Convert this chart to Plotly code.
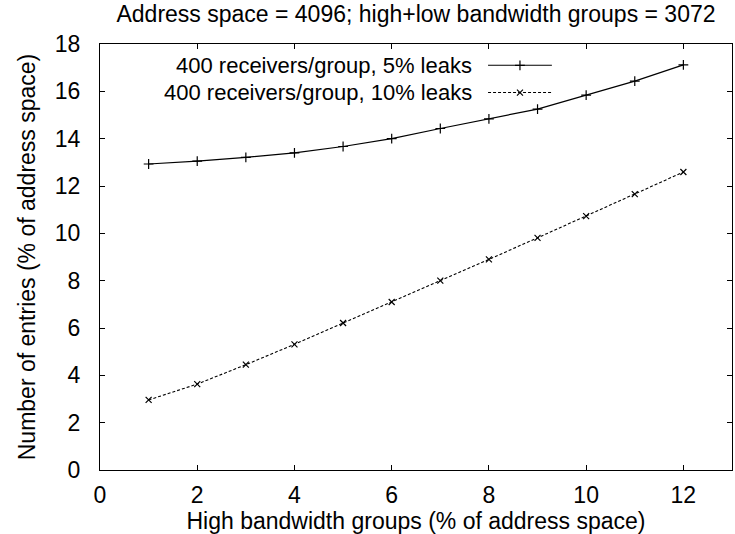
import plotly.graph_objects as go

# High bandwidth groups (% of address space)
high_bw = [1, 2, 3, 4, 5, 6, 7, 8, 9, 10, 11, 12]
# Number of entries (% of address space)
entries_5pct = [12.93, 13.05, 13.21, 13.40, 13.67, 14.00, 14.43, 14.84, 15.25, 15.84, 16.43, 17.12]
entries_10pct = [2.96, 3.63, 4.45, 5.31, 6.21, 7.10, 8.00, 8.90, 9.81, 10.73, 11.66, 12.59]

series_names = ["400 receivers/group, 5% leaks", "400 receivers/group, 10% leaks"]
x_ticks = [0, 2, 4, 6, 8, 10, 12]
y_ticks = [0, 2, 4, 6, 8, 10, 12, 14, 16, 18]

FONT = "Liberation Sans, Arial, Helvetica, sans-serif"
FS = 23
KEY_FS = 22

fig = go.Figure()

fig.add_trace(go.Scatter(
    x=high_bw, y=entries_5pct, mode="lines+markers", name=series_names[0],
    line=dict(color="black", width=1.2),
    marker=dict(symbol="cross-thin", size=7, line=dict(color="black", width=1.2)),
    showlegend=False,
))
fig.add_trace(go.Scatter(
    x=high_bw, y=entries_10pct, mode="lines+markers", name=series_names[1],
    line=dict(color="black", width=1.1, dash="3px,2px"),
    marker=dict(symbol="x-thin", size=6, line=dict(color="black", width=1.2)),
    showlegend=False,
))

# Key: text right-aligned, sample line to the right (gnuplot style)
key_rows = [0.950, 0.886]
key_text_x = 0.590
key_line = (0.614, 0.715)
styles = [
    dict(dash="solid", symbol="cross-thin", size=7),
    dict(dash="3px,2px", symbol="x-thin", size=6),
]
for name, yk, st in zip(series_names, key_rows, styles):
    fig.add_annotation(
        x=key_text_x, y=yk, xref="paper", yref="paper", text=name,
        showarrow=False, xanchor="right", yanchor="middle", borderpad=0,
        font=dict(family=FONT, size=KEY_FS, color="black"),
    )
    fig.add_trace(go.Scatter(
        x=[key_line[0], key_line[1]], y=[yk, yk], xaxis="x2", yaxis="y2",
        mode="lines", line=dict(color="black", width=1.1, dash=st["dash"]),
        showlegend=False, hoverinfo="skip",
    ))
    fig.add_trace(go.Scatter(
        x=[(key_line[0] + key_line[1]) / 2], y=[yk], xaxis="x2", yaxis="y2",
        mode="markers",
        marker=dict(symbol=st["symbol"], size=st["size"], line=dict(color="black", width=1.2)),
        showlegend=False, hoverinfo="skip",
    ))

axis_common = dict(
    showgrid=False, zeroline=False, showline=True, linecolor="black", linewidth=1,
    mirror="ticks", ticks="inside", ticklen=5, tickwidth=1, tickcolor="black",
    tickfont=dict(family=FONT, size=FS, color="black"),
)

fig.update_layout(
    width=735, height=534,
    margin=dict(l=100, r=3, t=44, b=64),
    paper_bgcolor="white", plot_bgcolor="white",
    font=dict(family=FONT, size=FS, color="black"),
    title=dict(
        text="Address space = 4096; high+low bandwidth groups = 3072",
        x=0.566, xanchor="center", y=0.973, yanchor="middle",
        font=dict(family=FONT, size=FS, color="black"),
    ),
    xaxis=dict(
        range=[0, 13], tickvals=x_ticks, ticklabelstandoff=4,
        title=dict(text="High bandwidth groups (% of address space)", standoff=2,
                   font=dict(family=FONT, size=FS, color="black")),
        **axis_common,
    ),
    yaxis=dict(
        range=[0, 18], tickvals=y_ticks, ticklabelstandoff=14,
        title=dict(text="Number of entries (% of address space)", standoff=12,
                   font=dict(family=FONT, size=FS, color="black")),
        **axis_common,
    ),
    xaxis2=dict(range=[0, 1], overlaying="x", visible=False, domain=[0, 1]),
    yaxis2=dict(range=[0, 1], overlaying="y", visible=False, domain=[0, 1]),
)

fig.write_html("out.html")
